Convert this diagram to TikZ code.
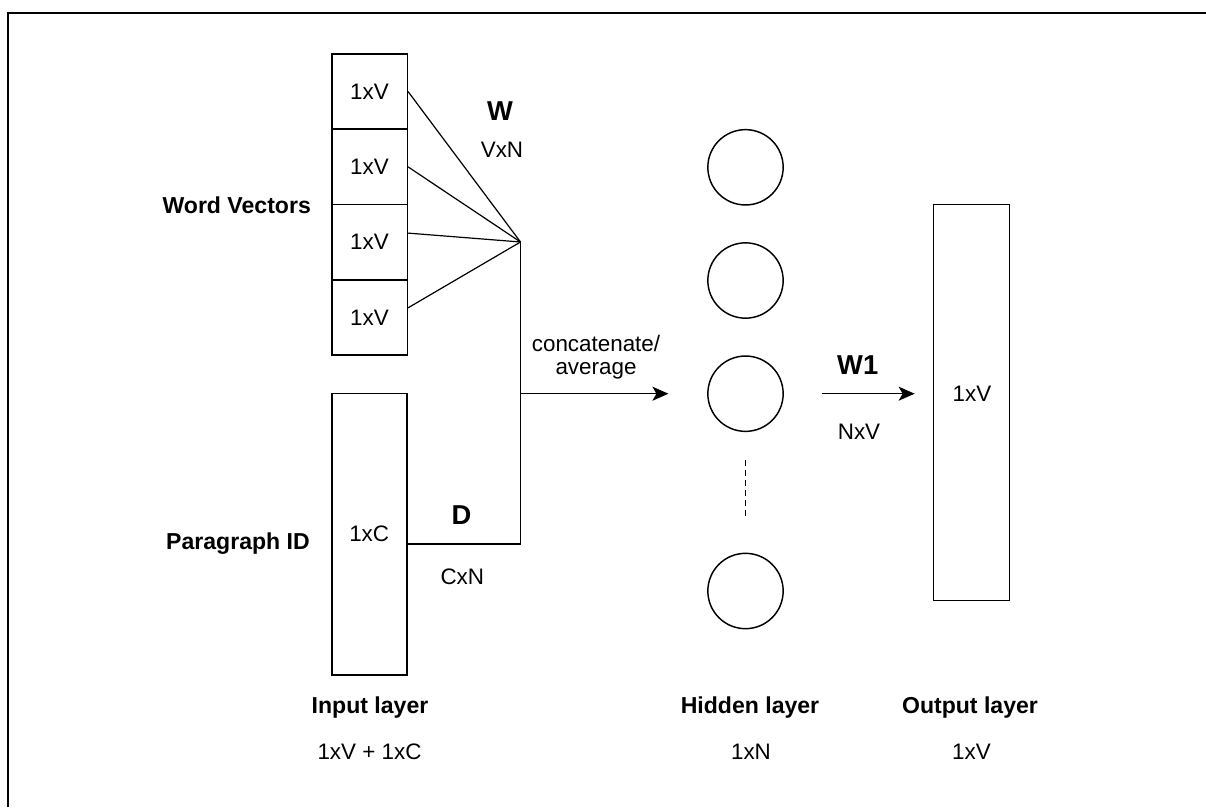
\documentclass[tikz,border=0pt]{standalone}
\usepackage{fontspec}
\setmainfont{Liberation Sans}
\usetikzlibrary{arrows.meta,calc}
\begin{document}
\begin{tikzpicture}[x=0.75pt,y=-0.75pt,
  cell/.style={draw,line width=1.2pt,minimum width=56.7pt,minimum height=56.4pt,inner sep=0pt,font=\fontsize{16.8}{19}\selectfont},
  tallbox/.style={draw,line width=1.2pt,inner sep=0pt,font=\fontsize{16.8}{19}\selectfont},
  neuron/.style={draw,circle,line width=1.1pt,minimum size=56.5pt,inner sep=0pt},
  lbl/.style={font=\fontsize{17.3}{19}\selectfont\bfseries,inner sep=0pt},
  txt/.style={font=\fontsize{16.8}{19}\selectfont,inner sep=0pt},
  big/.style={font=\fontsize{20.5}{23}\selectfont\bfseries,inner sep=0pt},
  fan/.style={line width=0.9pt},
  conn/.style={line width=1.1pt},
  arr/.style={line width=1.1pt,-{Stealth[length=12pt,width=10.5pt,inset=3pt]}}
]
\useasboundingbox (0,0) rectangle (1206,807);
% frame
\draw[line width=1.5pt] (7.7,807) -- (7.7,13.3) -- (1206,13.3);

% input word vectors
\node[cell] (w1) at (369.5,91.6) {1xV};
\node[cell] (w2) at (369.5,166.9) {1xV};
\node[cell] (w3) at (369.5,242.1) {1xV};
\node[cell] (w4) at (369.5,317.4) {1xV};
% paragraph id box
\node[tallbox,minimum width=56.25pt,minimum height=211.3pt] (para) at (369.2,534.2) {1xC};

% junction points
\coordinate (j) at (520.5,242);
\coordinate (k) at (520.5,544);
\coordinate (m) at (520.5,393.7);

% fan lines
\draw[fan] (w1.east) -- (j);
\draw[fan] (w2.east) -- (j);
\draw[fan] ($(w3.east)+(0,-9)$) -- (j);
\draw[fan] ($(w4.east)+(0,-9.6)$) -- (j);
% D line and vertical
\draw[conn] (para.east |- k) -- (k) -- (j);

% hidden neurons
\node[neuron] (c1) at (745.5,167.3) {};
\node[neuron] (c2) at (745.5,280.5) {};
\node[neuron] (c3) at (745.5,393.7) {};
\node[neuron] (c4) at (745.5,591) {};
\draw[line width=1pt,dash pattern=on 4pt off 3.5pt,shorten <=21.2pt,shorten >=24.4pt] (c3.south) -- (c4.north);

% output box
\node[tallbox,minimum width=57pt,minimum height=297pt] (out) at (971.3,402.5) {};
\node[txt] (outt) at (972,393.5) {1xV};

% arrows
\draw[arr,shorten >=29pt] (m) -- (c3.west);
\draw[arr,shorten <=28.2pt,shorten >=13.4pt] (c3.east) -- (c3.east -| out.west);

% labels
\node[big] (W) at (500,110.7) {W};
\node[txt] (VxN) at (502,149.3) {VxN};
\node[big] (D) at (461.5,514.7) {D};
\node[txt] (CxN) at (462.3,576.4) {CxN};
\node[big] (W1) at (857.7,365.4) {W1};
\node[txt] (NxV) at (859,431.3) {NxV};
\node[txt] (cat) at (596,343.8) {concatenate/};
\node[txt] (avg) at (596,370.6) {average};

\node[lbl] (wv) at (236.7,205) {Word Vectors};
\node[lbl] (pid) at (238,544) {Paragraph ID};

\node[lbl] (il) at (370,708) {Input layer};
\node[txt] (ils) at (369.5,751.7) {1xV + 1xC};
\node[lbl] (hl) at (750,708) {Hidden layer};
\node[txt] (hls) at (751,751.7) {1xN};
\node[lbl] (ol) at (970,708) {Output layer};
\node[txt] (ols) at (971.5,751.7) {1xV};
\end{tikzpicture}
\end{document}
